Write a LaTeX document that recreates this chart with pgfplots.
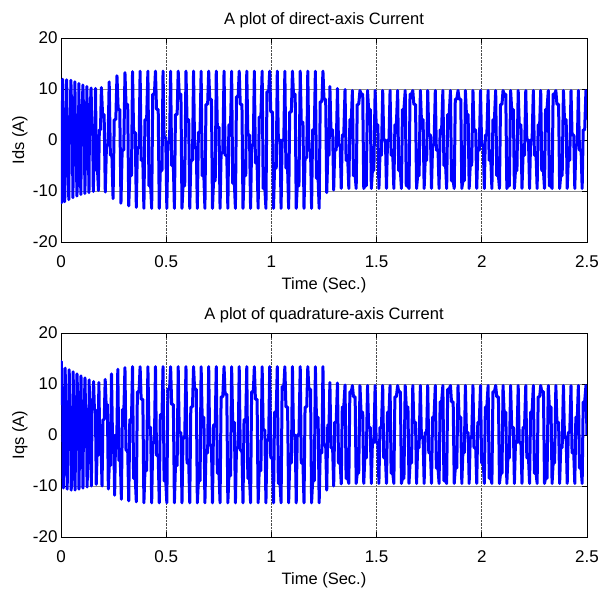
\documentclass[border=0pt]{standalone}
\usepackage{fontspec}
\setmainfont{Liberation Sans}
\usepackage{pgfplots}
\pgfplotsset{compat=1.18}

\pgfplotsset{mlab/.style={
  scale only axis, width=526pt, height=204pt,
  xmin=0, xmax=2.5, ymin=-20, ymax=20,
  xtick={0,0.5,1,1.5,2,2.5}, ytick={-20,-10,0,10,20},
  xticklabels={0,0.5,1,1.5,2,2.5},
  grid=major,
  x grid style={black!70, densely dotted, line width=0.6pt},
  y grid style={black!45, line width=0.9pt},
  tick align=inside, major tick length=5pt,
  axis line style={line width=0.8pt}, tick style={black, line width=0.6pt},
  tick label style={font=\fontsize{17}{19}\selectfont},
  /pgf/number format/assume math mode=true,
  xticklabel style={anchor=base, yshift=-25pt},
  every axis x label/.style={at={(axis description cs:0.5,-0.2304)}, anchor=base, font=\fontsize{16.5}{19}\selectfont},
  every axis y label/.style={at={(axis description cs:-0.0703,0.5)}, rotate=90, anchor=base, font=\fontsize{16.5}{19}\selectfont},
  every axis title/.style={at={(axis description cs:0.5,1.0686)}, anchor=base, font=\fontsize{16.5}{19}\selectfont},
}}

\begin{document}
\begin{tikzpicture}
\useasboundingbox (0pt,0pt) rectangle (598pt,-589pt);

% direct-axis current
\begin{axis}[mlab, at={(61pt,-242pt)}, anchor=south west,
  title={A plot of direct-axis Current}, xlabel={Time (Sec.)}, ylabel={Ids (A)}]
\addplot[color=blue, line width=3pt, line join=round, mark=none] coordinates {
(0,0)(0.003,-12.3)
(0.008,11.9)(0.0108,4)(0.0147,4)(0.0175,-12.1)(0.0204,-6)(0.0242,-6)
(0.027,11.8)(0.030,-2)(0.034,-2)(0.037,-11.7)(0.040,3)(0.044,3)
(0.047,11.7)(0.0499,7)(0.0537,7)(0.0565,-11.3)(0.0594,-1)(0.0632,-1)
(0.066,11.4)(0.0689,1)(0.0727,1)(0.0755,-11.0)(0.0784,-8)(0.0822,-8)
(0.085,11.1)(0.0879,-5)(0.0917,-5)(0.0945,-10.7)(0.0974,5)(0.1012,5)
(0.104,10.8)(0.1069,6)(0.1107,6)(0.1135,-10.5)(0.1164,-3)(0.1202,-3)
(0.123,10.5)(0.126,-1)(0.130,-1)(0.133,-10.3)(0.136,7)(0.140,7)
(0.143,10.2)(0.1462,3)(0.1504,3)(0.1535,-10.1)(0.1567,-4)(0.1609,-4)
(0.164,10.1)(0.1682,-6)(0.1738,-6)(0.178,-9.9)(0.1822,2)(0.1878,2)
(0.192,10.3)(0.1976,5)(0.2050,5)(0.2105,-10.2)(0.2161,-1)(0.2235,-1)
(0.229,11.4)(0.2346,-3)(0.2420,-3)(0.2475,-11.5)(0.2531,4)(0.2605,4)
(0.266,12.6)(0.2717,6)(0.2793,6)(0.285,-12.4)(0.2907,-2)(0.2983,-2)
(.304,13.2)(.309,7)(.317,7)(.322,-12.9)(.327,-7)(.335,-7)
(.340,13.4)(.345,1.5)(.353,1.5)(.358,-13.2)(.363,-1.5)(.371,-1.5)
(.376,13.5)(.381,-4)(.389,-4)(.394,-13.4)(.399,4)(.407,4)
(.413,13.5)(.418,-9)(.426,-9)(.431,-13.4)(.436,9)(.444,9)
(.449,13.5)(.454,6)(.462,6)(.467,-13.4)(.472,-6)(.480,-6)
(.485,13.5)(.490,.5)(.498,.5)(.503,-13.4)(.508,-.5)(.516,-.5)
(.521,13.5)(.526,-5)(.534,-5)(.539,-13.4)(.544,5)(.552,5)
(.557,13.5)(.562,9)(.570,9)(.575,-13.4)(.580,-9)(.588,-9)
(.594,13.5)(.599,4)(.607,4)(.612,-13.4)(.617,-4)(.625,-4)
(.630,13.5)(.635,-1.5)(.643,-1.5)(.648,-13.4)(.653,1.5)(.661,1.5)
(.666,13.5)(.671,-7)(.679,-7)(.684,-13.4)(.689,7)(.697,7)
(.702,13.5)(.707,8)(.715,8)(.720,-13.4)(.725,-8)(.733,-8)
(.738,13.5)(.743,2.5)(.751,2.5)(.756,-13.4)(.761,-2.5)(.769,-2.5)
(.775,13.5)(.780,-3)(.788,-3)(.793,-13.4)(.798,3)(.806,3)
(.811,13.5)(.816,-8.5)(.824,-8.5)(.829,-13.4)(.834,8.5)(.842,8.5)
(.847,13.5)(.852,7)(.860,7)(.865,-13.4)(.870,-7)(.878,-7)
(.883,13.5)(.888,1)(.896,1)(.901,-13.4)(.906,-1)(.914,-1)
(.919,13.5)(.924,-4.5)(.932,-4.5)(.937,-13.4)(.942,4.5)(.950,4.5)
(.956,13.5)(.961,-9.5)(.969,-9.5)(.974,-13.4)(.979,9.5)(.987,9.5)
(.992,13.5)(.997,5.5)(1.005,5.5)(1.010,-13.4)(1.015,-5.5)(1.023,-5.5)
(1.028,13.5)(1.033,0)(1.041,0)(1.046,-13.4)(1.051,0)(1.059,0)
(1.064,13.5)(1.069,-5.5)(1.077,-5.5)(1.082,-13.4)(1.087,5.5)(1.095,5.5)
(1.100,13.5)(1.105,9)(1.113,9)(1.118,-13.4)(1.123,-9)(1.131,-9)
(1.137,13.5)(1.142,3.5)(1.150,3.5)(1.155,-13.4)(1.160,-3.5)(1.168,-3.5)
(1.173,13.5)(1.178,-2)(1.186,-2)(1.191,-13.4)(1.196,2)(1.204,2)
(1.209,13.5)(1.214,-7.5)(1.222,-7.5)(1.227,-13.4)(1.232,7.5)(1.240,7.5)
(1.245,13.5)(1.250,8)(1.258,8)(1.263,-10.3)(1.268,-3)(1.274,-3)
(1.278,10.5)(1.283,2)(1.291,2)(1.296,-9.8)(1.301,-2)(1.308,-2)
(1.314,10.1)(1.319,-1)(1.327,-1)(1.332,-9.5)(1.337,1)(1.344,1)
(1.350,9.9)(1.355,-4)(1.363,-4)(1.368,-9.5)(1.373,4)(1.380,4)
(1.385,9.7)(1.390,-7)(1.398,-7)(1.403,-9.5)(1.408,7)(1.415,7)
(1.421,9.7)(1.426,9)(1.434,9)(1.439,-9.5)(1.444,-9)(1.451,-9)
(1.457,9.7)(1.462,6)(1.470,6)(1.475,-9.5)(1.480,-6)(1.487,-6)
(1.493,9.7)(1.498,3)(1.506,3)(1.511,-9.5)(1.516,-3)(1.523,-3)
(1.529,9.7)(1.534,0)(1.542,0)(1.547,-9.5)(1.552,0)(1.559,0)
(1.564,9.7)(1.569,-3)(1.577,-3)(1.582,-9.5)(1.587,3)(1.594,3)
(1.600,9.7)(1.605,-6)(1.613,-6)(1.618,-9.5)(1.623,6)(1.630,6)
(1.636,9.7)(1.641,-9)(1.649,-9)(1.654,-9.5)(1.659,9)(1.666,9)
(1.672,9.7)(1.677,7)(1.685,7)(1.690,-9.5)(1.695,-7)(1.702,-7)
(1.708,9.7)(1.713,4)(1.721,4)(1.726,-9.5)(1.731,-4)(1.738,-4)
(1.743,9.7)(1.748,1)(1.756,1)(1.761,-9.5)(1.766,-1)(1.773,-1)
(1.779,9.7)(1.784,-2)(1.792,-2)(1.797,-9.5)(1.802,2)(1.809,2)
(1.815,9.7)(1.820,-5)(1.828,-5)(1.833,-9.5)(1.838,5)(1.845,5)
(1.851,9.7)(1.856,-8)(1.864,-8)(1.869,-9.5)(1.874,8)(1.881,8)
(1.887,9.7)(1.892,8)(1.900,8)(1.905,-9.5)(1.910,-8)(1.917,-8)
(1.922,9.7)(1.927,5)(1.935,5)(1.940,-9.5)(1.945,-5)(1.952,-5)
(1.958,9.7)(1.963,2)(1.971,2)(1.976,-9.5)(1.981,-2)(1.988,-2)
(1.994,9.7)(1.999,-1)(2.007,-1)(2.012,-9.5)(2.017,1)(2.024,1)
(2.030,9.7)(2.035,-4)(2.043,-4)(2.048,-9.5)(2.053,4)(2.060,4)
(2.066,9.7)(2.071,-7)(2.079,-7)(2.084,-9.5)(2.089,7)(2.096,7)
(2.101,9.7)(2.106,9)(2.114,9)(2.119,-9.5)(2.124,-9)(2.131,-9)
(2.137,9.7)(2.142,6)(2.150,6)(2.155,-9.5)(2.160,-6)(2.167,-6)
(2.173,9.7)(2.178,3)(2.186,3)(2.191,-9.5)(2.196,-3)(2.203,-3)
(2.209,9.7)(2.214,0)(2.222,0)(2.227,-9.5)(2.232,0)(2.239,0)
(2.245,9.7)(2.250,-3)(2.258,-3)(2.263,-9.5)(2.268,3)(2.275,3)
(2.280,9.7)(2.285,-6)(2.293,-6)(2.298,-9.5)(2.303,6)(2.310,6)
(2.316,9.7)(2.321,-9)(2.329,-9)(2.334,-9.5)(2.339,9)(2.346,9)
(2.352,9.7)(2.357,7)(2.365,7)(2.370,-9.5)(2.375,-7)(2.382,-7)
(2.388,9.7)(2.393,4)(2.401,4)(2.406,-9.5)(2.411,-4)(2.418,-4)
(2.424,9.7)(2.429,1)(2.437,1)(2.442,-9.5)(2.447,-1)(2.454,-1)
(2.459,9.7)(2.464,-2)(2.472,-2)(2.477,-9.5)(2.482,2)(2.489,2)
(2.495,9.7)(2.500,4)
};
\end{axis}

% quadrature-axis current
\begin{axis}[mlab, at={(61pt,-537pt)}, anchor=south west,
  title={A plot of quadrature-axis Current}, xlabel={Time (Sec.)}, ylabel={Iqs (A)}]
\addplot[color=blue, line width=3pt, line join=round, mark=none] coordinates {
(0,12.5)
(0.002,14.4)(0.0047,6)(0.0083,6)(0.011,-10.4)(0.0137,-3)(0.0173,-3)
(0.020,13.1)(0.0229,-4)(0.0267,-4)(0.0295,-10.6)(0.0324,5)(0.0362,5)
(0.039,12.8)(0.0419,3)(0.0457,3)(0.0485,-10.8)(0.0514,-7)(0.0552,-7)
(0.058,12.4)(0.0607,-6)(0.0643,-6)(0.067,-10.8)(0.0697,2)(0.0733,2)
(0.076,12.0)(0.0789,8)(0.0827,8)(0.0855,-10.6)(0.0884,-2)(0.0922,-2)
(0.095,11.6)(0.0979,-1)(0.1017,-1)(0.1045,-10.4)(0.1074,6)(0.1112,6)
(0.114,11.2)(0.117,4)(0.121,4)(0.124,-10.2)(0.127,-5)(0.131,-5)
(0.134,10.8)(0.1372,-3)(0.1414,-3)(0.1445,-10.0)(0.1477,7)(0.1519,7)
(0.155,10.5)(0.1588,5)(0.1638,5)(0.1675,-9.7)(0.1713,-4)(0.1763,-4)
(0.180,10.3)(0.1845,-2)(0.1905,-2)(0.195,-10.0)(0.1995,3)(0.2055,3)
(0.210,10.9)(0.2145,6)(0.2205,6)(0.225,-10.6)(0.2295,-6)(0.2355,-6)
(0.240,12.0)(0.2445,0)(0.2505,0)(0.255,-11.8)(0.2595,0)(0.2655,0)
(0.270,12.9)(0.2751,-5)(0.2819,-5)(0.287,-12.6)(0.2921,5)(0.2989,5)
(.304,13.2)(.309,-3)(.317,-3)(.322,-12.9)(.327,3)(.335,3)
(.340,13.4)(.345,-8.5)(.353,-8.5)(.358,-13.1)(.363,8.5)(.371,8.5)
(.376,13.4)(.381,7)(.389,7)(.394,-13.3)(.399,-7)(.407,-7)
(.413,13.4)(.418,1.5)(.426,1.5)(.431,-13.3)(.436,-1.5)(.444,-1.5)
(.449,13.4)(.454,-4)(.462,-4)(.467,-13.3)(.472,4)(.480,4)
(.485,13.4)(.490,-9)(.498,-9)(.503,-13.3)(.508,9)(.516,9)
(.521,13.4)(.526,6)(.534,6)(.539,-13.3)(.544,-6)(.552,-6)
(.557,13.4)(.562,.5)(.570,.5)(.575,-13.3)(.580,-.5)(.588,-.5)
(.594,13.4)(.599,-5.5)(.607,-5.5)(.612,-13.3)(.617,5.5)(.625,5.5)
(.630,13.4)(.635,9)(.643,9)(.648,-13.3)(.653,-9)(.661,-9)
(.666,13.4)(.671,3.5)(.679,3.5)(.684,-13.3)(.689,-3.5)(.697,-3.5)
(.702,13.4)(.707,-2)(.715,-2)(.720,-13.3)(.725,2)(.733,2)
(.738,13.4)(.743,-7.5)(.751,-7.5)(.756,-13.3)(.761,7.5)(.769,7.5)
(.775,13.4)(.780,8)(.788,8)(.793,-13.3)(.798,-8)(.806,-8)
(.811,13.4)(.816,2.5)(.824,2.5)(.829,-13.3)(.834,-2.5)(.842,-2.5)
(.847,13.4)(.852,-3)(.860,-3)(.865,-13.3)(.870,3)(.878,3)
(.883,13.4)(.888,-8.5)(.896,-8.5)(.901,-13.3)(.906,8.5)(.914,8.5)
(.919,13.4)(.924,7)(.932,7)(.937,-13.3)(.942,-7)(.950,-7)
(.956,13.4)(.961,1)(.969,1)(.974,-13.3)(.979,-1)(.987,-1)
(.992,13.4)(.997,-4.5)(1.005,-4.5)(1.010,-13.3)(1.015,4.5)(1.023,4.5)
(1.028,13.4)(1.033,-9.5)(1.041,-9.5)(1.046,-13.3)(1.051,9.5)(1.059,9.5)
(1.064,13.4)(1.069,5.5)(1.077,5.5)(1.082,-13.3)(1.087,-5.5)(1.095,-5.5)
(1.100,13.4)(1.105,0)(1.113,0)(1.118,-13.3)(1.123,0)(1.131,0)
(1.137,13.4)(1.142,-5.5)(1.150,-5.5)(1.155,-13.3)(1.160,5.5)(1.168,5.5)
(1.173,13.4)(1.178,9)(1.186,9)(1.191,-13.3)(1.196,-9)(1.204,-9)
(1.209,13.4)(1.214,3.5)(1.222,3.5)(1.227,-13.3)(1.232,-3.5)(1.240,-3.5)
(1.245,13.4)(1.250,-2)(1.258,-2)(1.263,-10.8)(1.268,2)(1.274,2)
(1.278,10.3)(1.283,-2.5)(1.291,-2.5)(1.296,-10.0)(1.301,2.5)(1.308,2.5)
(1.314,10.2)(1.319,-5.5)(1.327,-5.5)(1.332,-9.6)(1.337,5.5)(1.344,5.5)
(1.350,9.8)(1.355,-8.5)(1.363,-8.5)(1.368,-9.5)(1.373,8.5)(1.380,8.5)
(1.385,9.7)(1.390,7.5)(1.398,7.5)(1.403,-9.5)(1.408,-7.5)(1.415,-7.5)
(1.421,9.7)(1.426,4.5)(1.434,4.5)(1.439,-9.5)(1.444,-4.5)(1.451,-4.5)
(1.457,9.7)(1.462,1.5)(1.470,1.5)(1.475,-9.5)(1.480,-1.5)(1.487,-1.5)
(1.493,9.7)(1.498,-1.5)(1.506,-1.5)(1.511,-9.5)(1.516,1.5)(1.523,1.5)
(1.529,9.7)(1.534,-4.5)(1.542,-4.5)(1.547,-9.5)(1.552,4.5)(1.559,4.5)
(1.564,9.7)(1.569,-7.5)(1.577,-7.5)(1.582,-9.5)(1.587,7.5)(1.594,7.5)
(1.600,9.7)(1.605,8.5)(1.613,8.5)(1.618,-9.5)(1.623,-8.5)(1.630,-8.5)
(1.636,9.7)(1.641,5.5)(1.649,5.5)(1.654,-9.5)(1.659,-5.5)(1.666,-5.5)
(1.672,9.7)(1.677,2.5)(1.685,2.5)(1.690,-9.5)(1.695,-2.5)(1.702,-2.5)
(1.708,9.7)(1.713,-.5)(1.721,-.5)(1.726,-9.5)(1.731,.5)(1.738,.5)
(1.743,9.7)(1.748,-3.5)(1.756,-3.5)(1.761,-9.5)(1.766,3.5)(1.773,3.5)
(1.779,9.7)(1.784,-6.5)(1.792,-6.5)(1.797,-9.5)(1.802,6.5)(1.809,6.5)
(1.815,9.7)(1.820,-9)(1.828,-9)(1.833,-9.5)(1.838,9)(1.845,9)
(1.851,9.7)(1.856,6.5)(1.864,6.5)(1.869,-9.5)(1.874,-6.5)(1.881,-6.5)
(1.887,9.7)(1.892,3.5)(1.900,3.5)(1.905,-9.5)(1.910,-3.5)(1.917,-3.5)
(1.922,9.7)(1.927,.5)(1.935,.5)(1.940,-9.5)(1.945,-.5)(1.952,-.5)
(1.958,9.7)(1.963,-2.5)(1.971,-2.5)(1.976,-9.5)(1.981,2.5)(1.988,2.5)
(1.994,9.7)(1.999,-5.5)(2.007,-5.5)(2.012,-9.5)(2.017,5.5)(2.024,5.5)
(2.030,9.7)(2.035,-8.5)(2.043,-8.5)(2.048,-9.5)(2.053,8.5)(2.060,8.5)
(2.066,9.7)(2.071,7.5)(2.079,7.5)(2.084,-9.5)(2.089,-7.5)(2.096,-7.5)
(2.101,9.7)(2.106,4.5)(2.114,4.5)(2.119,-9.5)(2.124,-4.5)(2.131,-4.5)
(2.137,9.7)(2.142,1.5)(2.150,1.5)(2.155,-9.5)(2.160,-1.5)(2.167,-1.5)
(2.173,9.7)(2.178,-1.5)(2.186,-1.5)(2.191,-9.5)(2.196,1.5)(2.203,1.5)
(2.209,9.7)(2.214,-4.5)(2.222,-4.5)(2.227,-9.5)(2.232,4.5)(2.239,4.5)
(2.245,9.7)(2.250,-7.5)(2.258,-7.5)(2.263,-9.5)(2.268,7.5)(2.275,7.5)
(2.280,9.7)(2.285,8.5)(2.293,8.5)(2.298,-9.5)(2.303,-8.5)(2.310,-8.5)
(2.316,9.7)(2.321,5.5)(2.329,5.5)(2.334,-9.5)(2.339,-5.5)(2.346,-5.5)
(2.352,9.7)(2.357,2.5)(2.365,2.5)(2.370,-9.5)(2.375,-2.5)(2.382,-2.5)
(2.388,9.7)(2.393,-.5)(2.401,-.5)(2.406,-9.5)(2.411,.5)(2.418,.5)
(2.424,9.7)(2.429,-3.5)(2.437,-3.5)(2.442,-9.5)(2.447,3.5)(2.454,3.5)
(2.459,9.7)(2.464,-6.5)(2.472,-6.5)(2.477,-9.5)(2.482,6.5)(2.489,6.5)
(2.495,9.7)(2.500,0)
};
\end{axis}
\end{tikzpicture}
\end{document}
